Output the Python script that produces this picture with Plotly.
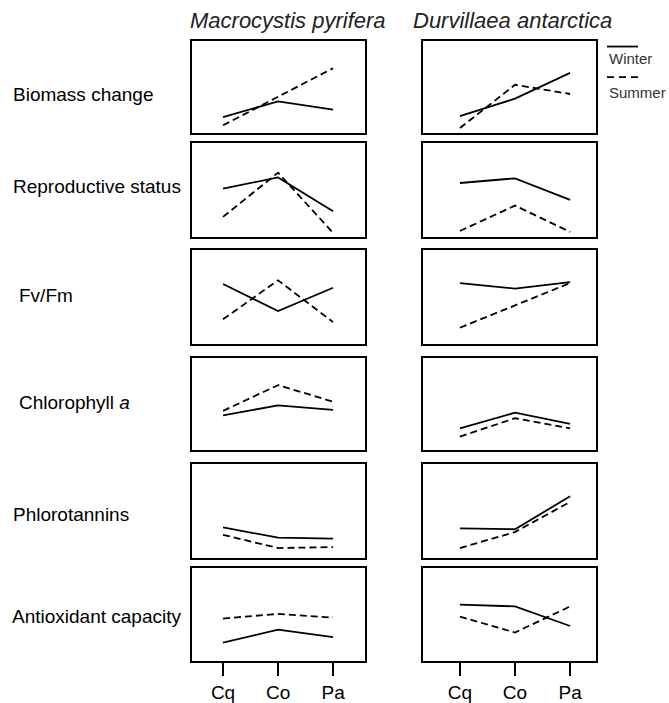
import plotly.graph_objects as go

# ---- data (relative response, 0-100 scale within each panel) ----
sites = ["Cq", "Co", "Pa"]
variables = ["Biomass change", "Reproductive status", "Fv/Fm",
             "Chlorophyll <i>a</i>", "Phlorotannins", "Antioxidant capacity"]
species = ["<i>Macrocystis pyrifera</i>", "<i>Durvillaea antarctica</i>"]
seasons = ["Winter", "Summer"]

macro_winter = [[17, 34, 25], [51, 63, 27], [64, 35, 60], [38, 49, 44], [33, 22, 21], [20, 34, 26]]
macro_summer = [[8, 39, 70], [21, 68, 4], [26, 68, 23], [43, 71, 53], [25, 11, 12], [46, 51, 47]]
durv_winter = [[18, 37, 65], [57, 62, 39], [65, 59, 66], [24, 41, 29], [32, 31, 66], [61, 59, 38]]
durv_summer = [[5, 52, 42], [6, 33, 5], [17, 41, 65], [15, 35, 24], [11, 28, 60], [48, 31, 59]]

# ---- layout geometry (pixels) ----
W, H = 669, 703
col_x = [(192, 365), (423, 596)]
col_range = [(-0.564, 2.58), (-0.67, 2.47)]
row_tops = [41, 144, 253, 362, 469, 574]
row_bots = [134, 239, 347, 455, 564, 668]
label_x = [11, 11, 17, 17, 11, 10]
label_y = [95, 188, 298, 407, 520, 623]
FONT = "Arial, Liberation Sans, sans-serif"

fig = go.Figure()
series = [(macro_winter, macro_summer), (durv_winter, durv_summer)]
dash_styles = ["solid", "7px,4px"]

layout = {}
k = 0
for r in range(6):
    for c in range(2):
        k += 1
        xa = "x" if k == 1 else f"x{k}"
        ya = "y" if k == 1 else f"y{k}"
        for s_i, data in enumerate(series[c]):
            fig.add_trace(go.Scatter(
                x=sites, y=data[r], mode="lines", xaxis=xa, yaxis=ya,
                line=dict(color="black", width=1.8, dash=dash_styles[s_i]),
                name=seasons[s_i], showlegend=False, hoverinfo="skip"))
        bottom = (r == 5)
        layout["xaxis" if k == 1 else f"xaxis{k}"] = dict(
            domain=[col_x[c][0] / W, col_x[c][1] / W],
            anchor=ya, type="category", categoryorder="array", categoryarray=sites,
            range=list(col_range[c]), showgrid=False, zeroline=False,
            showline=True, mirror=True, linecolor="black", linewidth=2,
            ticks="outside" if bottom else "", ticklen=13, tickwidth=1.6, tickcolor="black",
            showticklabels=bottom, tickfont=dict(family=FONT, size=19, color="black"),
            fixedrange=True)
        layout["yaxis" if k == 1 else f"yaxis{k}"] = dict(
            domain=[1 - row_bots[r] / H, 1 - row_tops[r] / H],
            anchor=xa, range=[0, 100], showgrid=False, zeroline=False,
            showline=True, mirror=True, linecolor="black", linewidth=2,
            showticklabels=False, ticks="", fixedrange=True)

annotations = []
for r, name in enumerate(variables):
    annotations.append(dict(text=name, xref="paper", yref="paper",
                            x=label_x[r] / W, y=1 - label_y[r] / H,
                            xanchor="left", yanchor="middle", showarrow=False,
                            font=dict(family=FONT, size=19, color="black")))
title_x = [288, 512]
for c, name in enumerate(species):
    annotations.append(dict(text=name, xref="paper", yref="paper",
                            x=title_x[c] / W, y=1 - 21 / H,
                            xanchor="center", yanchor="middle", showarrow=False,
                            font=dict(family=FONT, size=22, color="#222")))
# legend texts
annotations.append(dict(text=seasons[0], xref="paper", yref="paper", x=607 / W, y=1 - 59 / H,
                        xanchor="left", yanchor="middle", showarrow=False,
                        font=dict(family=FONT, size=15, color="#333")))
annotations.append(dict(text=seasons[1], xref="paper", yref="paper", x=607 / W, y=1 - 93 / H,
                        xanchor="left", yanchor="middle", showarrow=False,
                        font=dict(family=FONT, size=15, color="#333")))
shapes = [
    dict(type="line", xref="paper", yref="paper", x0=607 / W, x1=638 / W,
         y0=1 - 47 / H, y1=1 - 47 / H, line=dict(color="black", width=1.8)),
    dict(type="line", xref="paper", yref="paper", x0=607 / W, x1=641 / W,
         y0=1 - 78 / H, y1=1 - 78 / H, line=dict(color="black", width=1.8, dash="7px,5px")),
]

fig.update_layout(width=W, height=H, margin=dict(l=0, r=0, t=0, b=0),
                  paper_bgcolor="white", plot_bgcolor="white",
                  annotations=annotations, shapes=shapes, showlegend=False, **layout)
fig.write_html("out.html", config={"displayModeBar": False},
               post_script="document.body.style.margin='0';document.body.style.overflow='hidden';")
